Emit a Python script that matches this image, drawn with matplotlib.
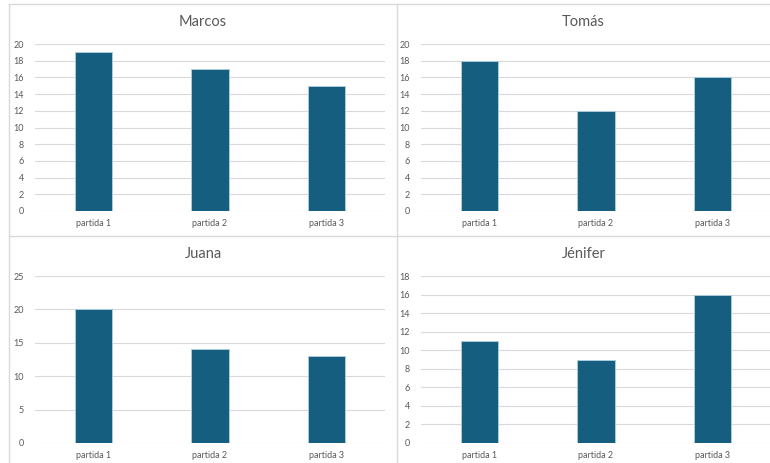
import matplotlib
matplotlib.use("Agg")
from matplotlib import pyplot as plt
from matplotlib.lines import Line2D

# data
categories = ["partida 1", "partida 2", "partida 3"]
names = ["Marcos", "Tomás", "Juana", "Jénifer"]
marcos = [19, 17, 15]
tomas = [18, 12, 16]
juana = [20, 14, 13]
jenifer = [11, 9, 16]
series = [marcos, tomas, juana, jenifer]
ylims = [20, 20, 25, 18]
ysteps = [2, 2, 5, 2]

W, H = 770, 463
bar_color = "#165E80"
text_color = "#595959"
grid_color = "#D9D9D9"

plt.rcParams['font.family'] = ['Lato', 'DejaVu Sans']

fig = plt.figure(figsize=(W / 100, H / 100), dpi=100)

# plot areas in pixel coords: (x0, x1, ytop, ybottom)
areas = [(35, 385, 44, 211), (421, 771, 44, 211),
         (35, 385, 276, 443), (421, 771, 276, 443)]
# chart boxes (x0, x1, y0, y1) for titles
boxes = [(9, 397, 4, 236), (397, 770, 4, 236),
         (9, 397, 236, 463), (397, 770, 236, 463)]

for i in range(4):
    x0, x1, yt, yb = areas[i]
    ax = fig.add_axes([x0 / W, 1 - yb / H, (x1 - x0) / W, (yb - yt) / H])
    ax.bar(range(3), series[i], width=0.32, color=bar_color,
           edgecolor="#A9CBDB", linewidth=0.7, zorder=3)
    ax.set_xlim(-0.5, 2.5)
    ax.set_ylim(0, ylims[i])
    ax.set_yticks(range(0, ylims[i] + 1, ysteps[i]))
    ax.set_xticks(range(3))
    ax.set_xticklabels(categories)
    ax.tick_params(length=0, labelsize=6.5, colors=text_color, pad=6)
    ax.tick_params(axis='y', pad=8)
    for s in ax.spines.values():
        s.set_visible(False)
    ax.grid(axis='y', color=grid_color, linewidth=0.8, zorder=0)
    ax.set_axisbelow(True)

    bx0, bx1, by0, by1 = boxes[i]
    fig.text((bx0 + bx1) / 2 / W, 1 - (by0 + 18) / H, names[i],
             ha='center', va='center', fontsize=10.5, color=text_color)

# chart borders
border = "#D9D9D9"
fig.add_artist(Line2D([9 / W, 1], [1 - 4 / H, 1 - 4 / H], color=border, lw=1))
fig.add_artist(Line2D([9 / W, 1], [1 - 236 / H, 1 - 236 / H], color=border, lw=1))
fig.add_artist(Line2D([9 / W, 9 / W], [0, 1 - 4 / H], color=border, lw=1))
fig.add_artist(Line2D([397 / W, 397 / W], [0, 1 - 4 / H], color=border, lw=1))

fig.savefig("out.png", dpi=100)
